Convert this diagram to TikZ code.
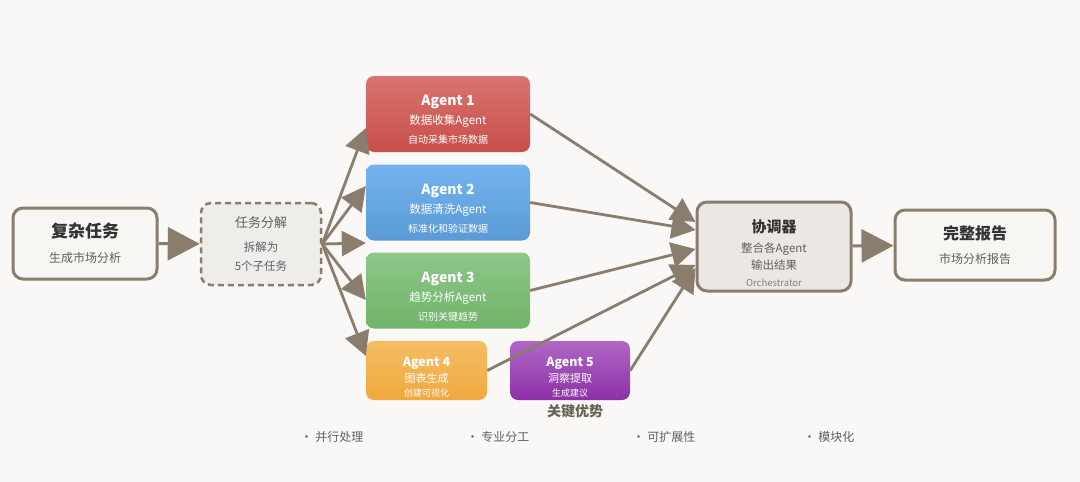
\documentclass[tikz,border=0pt]{standalone}
\usepackage{fontspec}
\setmainfont{Noto Sans CJK SC}
\usetikzlibrary{arrows.meta}
\definecolor{bg}{HTML}{F9F8F6}
\definecolor{brd}{HTML}{8B7D6B}
\definecolor{pale}{HTML}{F7F6F3}
\definecolor{grey}{HTML}{EEEDEA}
\definecolor{orcfill}{HTML}{EBE8E4}
\definecolor{ink}{HTML}{333333}
\definecolor{soft}{HTML}{5F5F5F}
\definecolor{redtop}{HTML}{D9746F}
\definecolor{redbot}{HTML}{C84E49}
\definecolor{bluetop}{HTML}{74B3EF}
\definecolor{bluebot}{HTML}{5A9AD5}
\definecolor{greentop}{HTML}{8DC78A}
\definecolor{greenbot}{HTML}{70B469}
\definecolor{orangetop}{HTML}{F5BD63}
\definecolor{orangebot}{HTML}{F1A83F}
\definecolor{purpletop}{HTML}{B067C6}
\definecolor{purplebot}{HTML}{8D30A7}
\definecolor{advink}{HTML}{6B6054}
\begin{document}
\begin{tikzpicture}[x=1pt,y=-1pt,
    box/.style={draw=brd,line width=3pt,rounded corners=10pt,fill=pale,
      inner sep=0pt,align=center,text=ink},
    agent/.style={rounded corners=8pt,inner sep=0pt,align=center,text=white,
      minimum width=164pt,minimum height=76pt},
    small/.style={agent,minimum width=121pt,minimum height=59pt},
    point/.style={text=soft,font=\fontsize{12}{12}\selectfont}]
      \fill[bg] (0,0) rectangle (1080,482);
      \useasboundingbox (0,0) rectangle (1080,482);
      \draw
        (85,243.5) node[box,minimum width=144pt,minimum height=71pt,
          font=\fontsize{12}{25}\selectfont] (task)
          {{\fontsize{17}{17}\selectfont\bfseries 复杂任务}\\\textcolor{soft}{生成市场分析}}
        (261,244) node[box,fill=grey,dashed,dash pattern=on 6pt off 4pt,line width=2.5pt,
          minimum width=120pt,minimum height=82pt,text=soft,
          font=\fontsize{11.5}{19}\selectfont] (split)
          {{\fontsize{13}{13}\selectfont 任务分解}\\[5pt]拆解为\\5个子任务}
        (448,114) node[agent,top color=redtop,bottom color=redbot,
          font=\fontsize{11.5}{19}\selectfont] (a1)
          {{\fontsize{14}{14}\selectfont\bfseries\rule{0pt}{22pt}Agent 1}\\数据收集Agent\\{\fontsize{10}{10}\selectfont 自动采集市场数据}}
        (448,202.5) node[agent,top color=bluetop,bottom color=bluebot,
          font=\fontsize{11.5}{19}\selectfont] (a2)
          {{\fontsize{14}{14}\selectfont\bfseries\rule{0pt}{22pt}Agent 2}\\数据清洗Agent\\{\fontsize{10}{10}\selectfont 标准化和验证数据}}
        (448,290.5) node[agent,top color=greentop,bottom color=greenbot,
          font=\fontsize{11.5}{19}\selectfont] (a3)
          {{\fontsize{14}{14}\selectfont\bfseries\rule{0pt}{22pt}Agent 3}\\趋势分析Agent\\{\fontsize{10}{10}\selectfont 识别关键趋势}}
        (426.5,370.5) node[small,top color=orangetop,bottom color=orangebot,
          font=\fontsize{11}{16}\selectfont] (a4)
          {{\fontsize{12.5}{12.5}\selectfont\bfseries\rule{0pt}{23pt}Agent 4}\\图表生成\\[-2pt]{\fontsize{9}{9}\selectfont 创建可视化}}
        (570,370.5) node[small,minimum width=120pt,top color=purpletop,bottom color=purplebot,
          font=\fontsize{11}{16}\selectfont] (a5)
          {{\fontsize{12.5}{12.5}\selectfont\bfseries\rule{0pt}{23pt}Agent 5}\\洞察提取\\[-2pt]{\fontsize{9}{9}\selectfont 生成建议}}
        (774,246.5) node[box,fill=orcfill,minimum width=154pt,minimum height=89pt,
          font=\fontsize{11.5}{17}\selectfont] (orc)
          {{\fontsize{15}{15}\selectfont\bfseries\rule{0pt}{27pt}协调器}\\[3pt]\textcolor{soft}{整合各Agent}\\\textcolor{soft}{输出结果}\\{\fontsize{9.5}{9.5}\selectfont\color{gray}Orchestrator}}
        (975,245) node[box,minimum width=160pt,minimum height=70pt,
          font=\fontsize{12}{24}\selectfont] (report)
          {{\fontsize{16}{16}\selectfont\bfseries 完整报告}\\\textcolor{soft}{市场分析报告}}
        (575,411) node[text=advink,font=\fontsize{14}{14}\selectfont\bfseries] (adv) {关键优势}
        (332,437) node[point] (p1) {• 并行处理}
        (498,437) node[point] (p2) {• 专业分工}
        (664,437) node[point] (p3) {• 可扩展性}
        (829,437) node[point] (p4) {• 模块化};
      \begin{scope}[draw=brd,line width=3pt,-{Triangle[length=32pt,width=33pt]}]
        \draw (task) to (split);
        \draw (orc) to (report);
      \end{scope}
      \begin{scope}[draw=brd,line width=2.8pt,-{Triangle[length=24pt,width=25pt]}]
        \draw (split.east) to ([yshift=-14pt]a1.west);
        \draw (split.east) to ([yshift=16.5pt]a2.west);
        \draw (split.east) to ([yshift=47.5pt]a3.west);
        \draw (split.east) to ([yshift=-9.5pt]a3.west);
        \draw (split.east) to ([yshift=14.5pt]a4.west);
        \draw (a1.east) to ([yshift=24.5pt]orc.west);
        \draw (a2.east) to ([yshift=16.5pt]orc.west);
        \draw (a3.east) to ([yshift=-2.5pt]orc.west);
        \draw (a4.east) to ([yshift=-18.5pt]orc.west);
        \draw (a5.east) to ([yshift=-21.5pt]orc.west);
      \end{scope}
    \end{tikzpicture}
\end{document}
